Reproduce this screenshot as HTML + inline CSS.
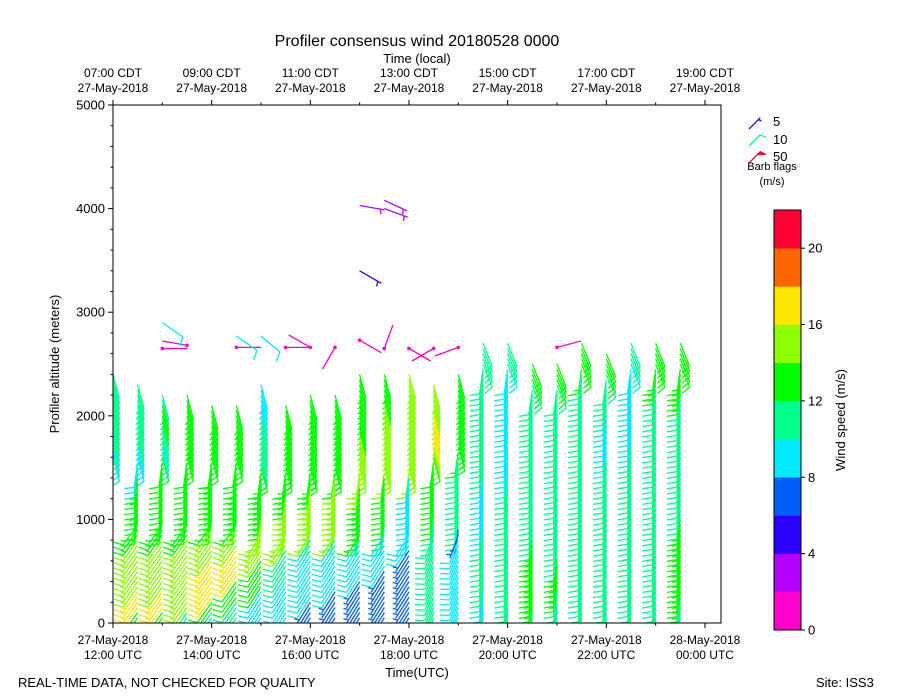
<!DOCTYPE html>
<html><head><meta charset="utf-8">
<style>
html,body{margin:0;padding:0;background:#fff;}
svg{display:block;font-family:"Liberation Sans","DejaVu Sans",sans-serif;}
</style></head>
<body>
<svg id="chart" width="900" height="700" viewBox="0 0 900 700" xmlns="http://www.w3.org/2000/svg">
<defs><clipPath id="plotclip"><rect x="113" y="105" width="608" height="518"/></clipPath></defs>
<rect width="900" height="700" fill="#fff"/>
<text x="417" y="46" font-size="16" text-anchor="middle">Profiler consensus wind 20180528 0000</text>
<text x="417" y="63" font-size="13" text-anchor="middle">Time (local)</text>
<text x="417" y="677" font-size="13" text-anchor="middle">Time(UTC)</text>
<text transform="translate(59,364) rotate(-90)" font-size="13" text-anchor="middle">Profiler altitude (meters)</text>
<text x="18" y="687" font-size="13">REAL-TIME DATA, NOT CHECKED FOR QUALITY</text>
<text x="816" y="687" font-size="13">Site: ISS3</text>
<g id="barbs" clip-path="url(#plotclip)"></g>
<g id="axes"></g>
<g id="legend"></g>
<g id="cbar"></g>
</svg>
<script>
// ---- data ----
var colHours = [0,0.5,1,1.5,2,2.5,3,3.5,4,4.5,5,5.5,6,6.5,7,7.5,8,8.5,9,9.5,10,10.5,11,11.5];
var gateStep = 50; // meters between gates, first gate at 50 m
// speed runs per column: [number of gates, speed m/s], from the lowest gate upward
var speedRuns = [
[[4,17],[2,16],[6,15],[2,14],[8,13],[4,12],[2,10],[2,9],[2,10],[2,9],[2,10],[6,11],[4,10],[2,11]],
[[2,13],[4,17],[10,15],[4,13],[2,12],[2,13],[2,12],[2,13],[6,9],[2,10],[10,11]],
[[2,12],[4,16],[10,15],[6,13],[10,12],[2,9],[4,11],[4,12],[2,11]],
[[2,11],[6,14],[8,15],[8,13],[20,12]],
[[2,11],[2,12],[2,16],[6,17],[6,15],[12,13],[12,12]],
[[4,10],[4,12],[6,16],[4,15],[10,13],[14,12]],
[[6,9],[6,12],[8,15],[10,13],[10,10],[6,9]],
[[8,9],[6,10],[4,14],[6,15],[18,13]],
[[4,7],[12,9],[10,14],[18,13]],
[[6,6],[10,9],[12,15],[16,13]],
[[8,6],[8,9],[10,13],[10,15],[12,13]],
[[10,6],[8,9],[10,12],[2,14],[6,15],[6,14],[6,13]],
[[14,6],[14,9],[2,14],[6,15],[12,14]],
[[20,10],[12,12],[2,15],[6,16],[6,15]],
[[16,9],[2,6],[14,10],[16,13]],
[[2,10],[4,9],[2,10],[4,11],[2,10],[4,11],[4,9],[2,8],[4,9],[2,10],[4,11],[4,10],[10,11],[4,10],[2,11]],
[[4,10],[12,11],[2,10],[10,11],[2,9],[2,8],[2,9],[2,8],[4,9],[2,8],[4,9],[2,8],[2,9],[2,10],[2,11]],
[[2,11],[14,13],[30,11],[4,13]],
[[6,11],[6,13],[34,11],[4,13]],
[[48,11],[6,13]],
[[32,11],[8,8],[8,11],[4,13]],
[[34,11],[8,9],[4,8],[4,9],[4,11]],
[[46,11],[8,13]],
[[4,11],[16,13],[24,11],[10,13]]
];
var lowDir  = [215,215,215,215,215,215,212,212,212,212,212,212,212,200,200,188,188,188,188,188,188,188,188,188];
var midDir  = [188,188,188,188,188,188,188,188,188,188,188,188,188,188,188,188,188,188,188,188,188,188,188,188];
var highDir = [165,165,165,165,165,165,165,165,165,165,165,165,165,165,165,158,158,158,158,158,158,158,158,158];
var midStart  = [1000,1000,1000,1000,1000,1000,900,900,900,900,900,900,900,900,900,0,0,0,0,0,0,0,0,0];
var highStart = [1600,1600,1600,1600,1600,1600,1500,1500,1500,1500,1500,1500,1500,1600,1700,2500,2500,2300,2300,2500,2400,2500,2500,2500];
var extraCol = [2,3,5,7,8,9,10,11,12,13,14,18,10,11,11,10,2,5,6];
var extraAlt = [2650,2680,2660,2660,2660,2660,2730,2650,2650,2650,2660,2660,4030,4080,4000,3400,2900,2770,2770];
var extraSpd = [1,1,1,1,1,1,1,1,1,1,1,1,3,3,3,5,8,8,8];
var extraDir = [90,280,90,90,300,210,120,20,120,240,250,75,100,115,110,120,125,125,130];
var yTicks = [0,1000,2000,3000,4000,5000];
var xTickHours = [0,2,4,6,8,10,12];
var utcLabels = [["27-May-2018","12:00 UTC"],["27-May-2018","14:00 UTC"],["27-May-2018","16:00 UTC"],["27-May-2018","18:00 UTC"],["27-May-2018","20:00 UTC"],["27-May-2018","22:00 UTC"],["28-May-2018","00:00 UTC"]];
var localLabels = [["07:00 CDT","27-May-2018"],["09:00 CDT","27-May-2018"],["11:00 CDT","27-May-2018"],["13:00 CDT","27-May-2018"],["15:00 CDT","27-May-2018"],["17:00 CDT","27-May-2018"],["19:00 CDT","27-May-2018"]];
var cbarColors = ["#ff00cc","#b300ff","#2a00ff","#005eff","#00eaff","#00ff8c","#00ff00","#8cff00","#ffe600","#ff6600","#ff0033"];
var cbarTicks = [0,4,8,12,16,20];

// ---- scales ----
var PL=113,PR=721,PT=105,PB=623;
function xS(h){return PL + h*49.33;}
function yS(a){return PB - a*(PB-PT)/5000;}
var NS="http://www.w3.org/2000/svg";
function mk(tag,parent){var e=document.createElementNS(NS,tag);parent.appendChild(e);return e;}
function colorFor(s){var i=Math.floor(s/2);if(i<0)i=0;if(i>10)i=10;return cbarColors[i];}

function drawBarb(g,x,y,spd,dir,L){
  L=L||25;
  var r=dir*Math.PI/180;
  var dx=Math.sin(r), dy=-Math.cos(r);
  var px=-dy, py=dx;
  var tx=x+dx*L, ty=y+dy*L;
  var c=colorFor(spd);
  var sc=L/25;
  var d="M"+x.toFixed(1)+","+y.toFixed(1)+"L"+tx.toFixed(1)+","+ty.toFixed(1);
  var n=Math.round(spd/5)*5, pos=0;
  var flags=Math.floor(n/50); n-=flags*50;
  var full=Math.floor(n/10), half=(n%10)>=5?1:0;
  for(var f=0;f<flags;f++){
    var fx=tx-dx*pos, fy=ty-dy*pos;
    d+="M"+fx.toFixed(1)+","+fy.toFixed(1)+"L"+(fx+(px*9+dx*3)*sc).toFixed(1)+","+(fy+(py*9+dy*3)*sc).toFixed(1)+"L"+(fx-dx*6*sc).toFixed(1)+","+(fy-dy*6*sc).toFixed(1)+"Z";
    pos+=7*sc;
  }
  for(var i=0;i<full;i++){
    var bx=tx-dx*pos, by=ty-dy*pos;
    d+="M"+bx.toFixed(1)+","+by.toFixed(1)+"L"+(bx+(px*9.5+dx*3)*sc).toFixed(1)+","+(by+(py*9.5+dy*3)*sc).toFixed(1);
    pos+=4*sc;
  }
  if(half){
    if(pos===0)pos=4*sc;
    var hx=tx-dx*pos, hy=ty-dy*pos;
    d+="M"+hx.toFixed(1)+","+hy.toFixed(1)+"L"+(hx+(px*5+dx*1.5)*sc).toFixed(1)+","+(hy+(py*5+dy*1.5)*sc).toFixed(1);
  }
  var p=mk("path",g);
  p.setAttribute("d",d);p.setAttribute("stroke",c);p.setAttribute("stroke-width","1.3");p.setAttribute("fill",flags?c:"none");
  
  
  if(spd<2.5){
    var ci=mk("circle",g);ci.setAttribute("cx",x);ci.setAttribute("cy",y);ci.setAttribute("r",1.8);ci.setAttribute("fill",c);
    
    
  }
}

var bg=document.getElementById("barbs");
for(var k=0;k<speedRuns.length;k++){
  var cg=mk("g",bg);
  
  
  var gate=0;
  var list=[];
  speedRuns[k].forEach(function(run){for(var q=0;q<run[0];q++){gate++;list.push([gate*gateStep,run[1]]);}});
  for(var j=list.length-1;j>=0;j--){
    var alt=list[j][0];
    var dir= alt>=highStart[k]?highDir[k]:(alt>=midStart[k]?midDir[k]:lowDir[k]);
    drawBarb(cg,xS(colHours[k]),yS(alt),list[j][1],dir);
  }
}
for(var e=0;e<extraCol.length;e++){
  drawBarb(bg,xS(colHours[extraCol[e]]),yS(extraAlt[e]),extraSpd[e],extraDir[e]);
}

// ---- axes ----
var ax=document.getElementById("axes");
var fr=mk("rect",ax);fr.setAttribute("x",PL);fr.setAttribute("y",PT);fr.setAttribute("width",PR-PL);fr.setAttribute("height",PB-PT);
fr.setAttribute("fill","none");fr.setAttribute("stroke","#000");fr.setAttribute("stroke-width","1");


function line(g,x1,y1,x2,y2,name){var l=mk("line",g);l.setAttribute("x1",x1);l.setAttribute("y1",y1);l.setAttribute("x2",x2);l.setAttribute("y2",y2);l.setAttribute("stroke","#000");l.setAttribute("stroke-width","1");
  
  return l;}
function txt(g,x,y,s,size,anchor,name){var t=mk("text",g);t.setAttribute("x",x);t.setAttribute("y",y);t.setAttribute("font-size",size);t.setAttribute("text-anchor",anchor);t.textContent=s;
  
  return t;}
for(var a=0;a<=5000;a+=200){var yy=yS(a);line(ax,PL-(a%1000===0?5:2.5),yy,PL,yy,"y-tick");}
yTicks.forEach(function(v){txt(ax,PL-8,yS(v)+4.5,String(v),13,"end","y-tick-label");});
for(var h=0;h<=12;h++){var xx=xS(h),len=(h%2===0)?5:2.5;line(ax,xx,PB,xx,PB+len,"x-tick");line(ax,xx,PT,xx,PT-len,"top-x-tick");}
xTickHours.forEach(function(h,i){
  txt(ax,xS(h),644,utcLabels[i][0],12,"middle","x-tick-label-date");
  txt(ax,xS(h),659,utcLabels[i][1],12,"middle","x-tick-label-time");
  txt(ax,xS(h),77,localLabels[i][0],12,"middle","top-tick-label-time");
  txt(ax,xS(h),92,localLabels[i][1],12,"middle","top-tick-label-date");
});

// ---- legend ----
var lg=document.getElementById("legend");
drawBarb(lg,749,129,5,45,16);
drawBarb(lg,749,146,10,45,16);
drawBarb(lg,749,163,50,45,16);
txt(lg,773,126,"5",13,"start","legend-label-5");
txt(lg,773,144,"10",13,"start","legend-label-10");
txt(lg,773,161,"50",13,"start","legend-label-50");
txt(lg,772,170,"Barb flags",11,"middle","legend-title");
txt(lg,772,185,"(m/s)",11,"middle","legend-units");

// ---- colorbar ----
var cb=document.getElementById("cbar");
var CX=774,CW=27,CT=210,CB=630;
function cy(v){return CB-v*(CB-CT)/22;}
cbarColors.forEach(function(c,i){
  var r=mk("rect",cb);r.setAttribute("x",CX);r.setAttribute("y",cy(i*2+2));r.setAttribute("width",CW);r.setAttribute("height",cy(i*2)-cy(i*2+2)+0.3);r.setAttribute("fill",c);
  
  
});
var cf=mk("rect",cb);cf.setAttribute("x",CX);cf.setAttribute("y",CT);cf.setAttribute("width",CW);cf.setAttribute("height",CB-CT);cf.setAttribute("fill","none");cf.setAttribute("stroke","#000");


cbarTicks.forEach(function(v){line(cb,CX+CW,cy(v),CX+CW+4,cy(v),"colorbar-tick");txt(cb,CX+CW+7,cy(v)+4.5,String(v),13,"start","colorbar-tick-label");});
var ct=txt(cb,0,0,"Wind speed (m/s)",13,"middle","colorbar-title");
ct.setAttribute("transform","translate(845,420) rotate(-90)");
</script>
</body></html>
